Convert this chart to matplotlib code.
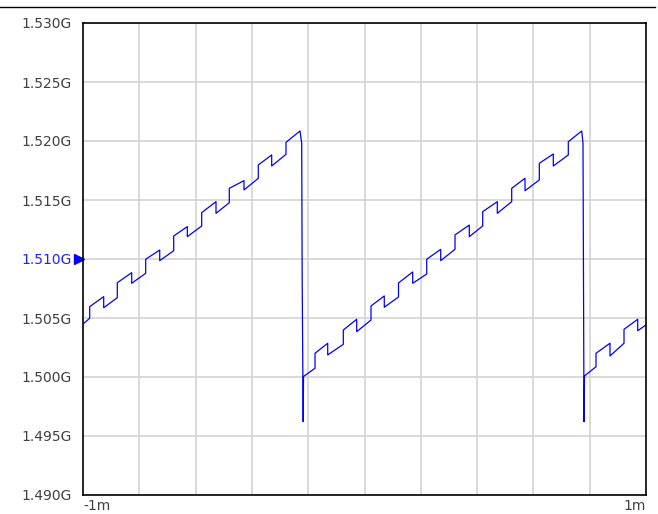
import matplotlib
matplotlib.use("Agg")
import matplotlib.pyplot as plt
from matplotlib.lines import Line2D
import matplotlib.transforms as mtransforms

# time axis (m units, -1m .. 1m)
t_vals = [
    -1.0000, -0.9762, -0.9762, -0.9265, -0.9265, -0.8782, -0.8782, -0.8270, -0.8270,
    -0.7773, -0.7773, -0.7275, -0.7275, -0.6778, -0.6778, -0.6295, -0.6295, -0.5783,
    -0.5783, -0.5275, -0.5275, -0.4803, -0.4803, -0.4281, -0.4281, -0.3773, -0.3773,
    -0.3297, -0.3297, -0.2789, -0.2789, -0.2291, -0.2231, -0.2213, -0.2178, -0.2167,
    -0.1758, -0.1758, -0.1307, -0.1307, -0.0753, -0.0753, -0.0277, -0.0277, 0.0231,
    0.0231, 0.0703, 0.0703, 0.1208, 0.1208, 0.1712, 0.1712, 0.2210, 0.2210,
    0.2707, 0.2707, 0.3215, 0.3215, 0.3723, 0.3723, 0.4199, 0.4199, 0.4718,
    0.4718, 0.5229, 0.5229, 0.5702, 0.5702, 0.6210, 0.6210, 0.6707, 0.6707,
    0.7240, 0.7240, 0.7716, 0.7762, 0.7780, 0.7798, 0.7816, 0.8224, 0.8224,
    0.8721, 0.8721, 0.9219, 0.9219, 0.9705, 0.9705, 1.0000,
]
# frequency values (GHz)
f_vals = [
    1.50449, 1.50498, 1.50596, 1.50681, 1.50587, 1.50672, 1.50799, 1.50884, 1.50794,
    1.50879, 1.50998, 1.51076, 1.50986, 1.51070, 1.51195, 1.51274, 1.51189, 1.51280,
    1.51393, 1.51486, 1.51387, 1.51477, 1.51599, 1.51664, 1.51585, 1.51684, 1.51797,
    1.51882, 1.51788, 1.51887, 1.51989, 1.52085, 1.51981, 1.50797, 1.49621, 1.50004,
    1.50074, 1.50201, 1.50286, 1.50187, 1.50277, 1.50398, 1.50489, 1.50384, 1.50483,
    1.50602, 1.50687, 1.50591, 1.50678, 1.50797, 1.50890, 1.50794, 1.50873, 1.50998,
    1.51082, 1.50986, 1.51082, 1.51204, 1.51288, 1.51189, 1.51280, 1.51401, 1.51486,
    1.51387, 1.51486, 1.51599, 1.51684, 1.51579, 1.51670, 1.51811, 1.51890, 1.51788,
    1.51882, 1.51994, 1.52085, 1.51981, 1.50797, 1.49621, 1.50009, 1.50087, 1.50201,
    1.50286, 1.50178, 1.50286, 1.50404, 1.50489, 1.50392, 1.50441,
]

y_ticks = [1.490, 1.495, 1.500, 1.505, 1.510, 1.515, 1.520, 1.525, 1.530]
y_tick_labels = ["1.490G", "1.495G", "1.500G", "1.505G", "1.510G",
                 "1.515G", "1.520G", "1.525G", "1.530G"]
x_grid = [-0.8, -0.6, -0.4, -0.2, 0.0, 0.2, 0.4, 0.6, 0.8]
x_end_labels = ["-1m", "1m"]
marker_level = 1.510

W, H = 658, 514
fig = plt.figure(figsize=(W / 100, H / 100), dpi=100)
ax = fig.add_axes([83 / W, 1 - 495 / H, 563 / W, 472 / H])

ax.set_xlim(-1, 1)
ax.set_ylim(1.490, 1.530)

ax.set_xticks(x_grid)
ax.set_xticklabels([])
ax.set_yticks(y_ticks)
ax.set_yticklabels(y_tick_labels)
ax.tick_params(axis="both", length=0)
ax.tick_params(axis="y", pad=8, labelsize=10, labelcolor="#404040")
for lab in ax.get_yticklabels():
    if lab.get_text() == "1.510G":
        lab.set_color("#2020ff")

ax.grid(True, color="#d3d3d3", linewidth=1.2)
ax.set_axisbelow(True)
for s in ax.spines.values():
    s.set_linewidth(1.2)
    s.set_color("black")

ax.plot(t_vals, f_vals, color="#0000ff", linewidth=0.9)

# x end labels
ax.text(0.0, -0.008, x_end_labels[0], transform=ax.transAxes, ha="left", va="top",
        fontsize=10, color="#404040")
ax.text(1.0, -0.008, x_end_labels[1], transform=ax.transAxes, ha="right", va="top",
        fontsize=10, color="#404040")

# marker triangle
trans = mtransforms.blended_transform_factory(ax.transAxes, ax.transData)
ax.plot([-0.0075], [marker_level], marker=">", color="#0000ff", markersize=7,
        transform=trans, clip_on=False, linestyle="none")

# top separator line
fig.add_artist(Line2D([0, 655 / W], [1 - 7 / H, 1 - 7 / H], color="black",
                      linewidth=1.0, transform=fig.transFigure))

fig.savefig("out.png", dpi=100)
